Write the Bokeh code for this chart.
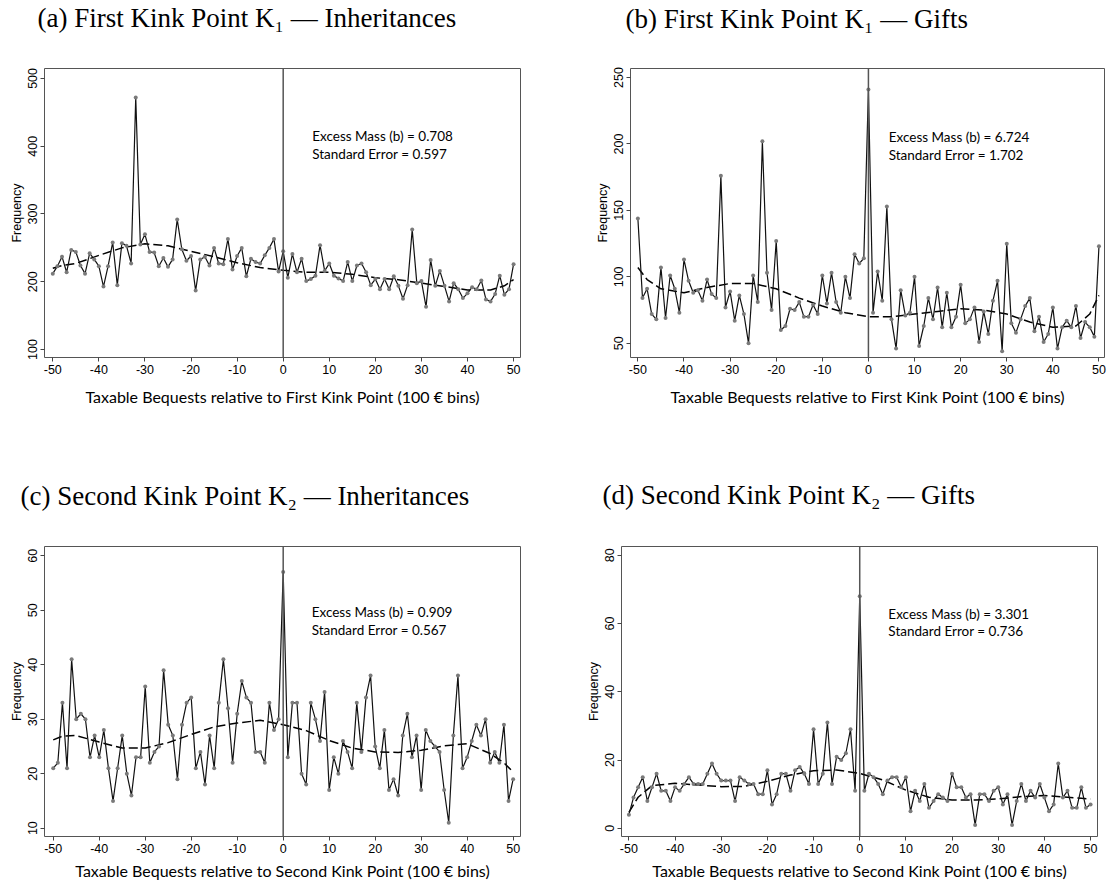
from bokeh.plotting import figure
from bokeh.layouts import column, row
from bokeh.models import Title, Span, Label, FixedTicker, Range1d
from bokeh.embed import file_html
from bokeh.resources import INLINE

# ---------------- data ----------------
bins = list(range(-50, 51))
x_ticks = [-50, -40, -30, -20, -10, 0, 10, 20, 30, 40, 50]
fit_x = [-50, -48, -45, -40, -35, -30, -25, -20, -15, -10, -5, 0,
         5, 10, 15, 20, 25, 30, 35, 40, 45, 48, 50]

titles = ["(a) First Kink Point K\u2081 \u2014 Inheritances",
          "(b) First Kink Point K\u2081 \u2014 Gifts",
          "(c) Second Kink Point K\u2082 \u2014 Inheritances",
          "(d) Second Kink Point K\u2082 \u2014 Gifts"]
xlabels = ["Taxable Bequests relative to First Kink Point (100 \u20ac bins)",
           "Taxable Bequests relative to First Kink Point (100 \u20ac bins)",
           "Taxable Bequests relative to Second Kink Point (100 \u20ac bins)",
           "Taxable Bequests relative to Second Kink Point (100 \u20ac bins)"]
excess_mass = ["0.708", "6.724", "0.909", "3.301"]
std_error = ["0.597", "1.702", "0.567", "0.736"]

counts_a = [212, 223, 237, 214, 247, 244, 224, 212, 242, 233,
            223, 193, 223, 258, 195, 257, 253, 227, 472, 255,
            270, 244, 243, 223, 235, 222, 233, 292, 248, 231,
            238, 187, 233, 237, 224, 250, 227, 226, 263, 218,
            238, 250, 208, 234, 229, 227, 239, 250, 263, 215,
            245,
            206, 241, 214, 234, 201, 204, 209, 254, 216, 227,
            209, 205, 201, 229, 201, 224, 227, 214, 195, 204,
            189, 204, 189, 208, 194, 175, 195, 277, 198, 201,
            163, 232, 194, 216, 194, 171, 198, 189, 176, 183,
            192, 189, 202, 174, 171, 182, 209, 181, 189, 226]
fit_a = [220, 224, 227, 239, 250, 256, 253, 245, 237, 228, 221, 217,
         214, 214, 211, 206, 203, 198, 193, 188, 188, 194, 203]

counts_b = [144, 84, 91, 72, 68, 107, 69, 101, 91, 73,
            113, 97, 88, 90, 82, 98, 87, 84, 176, 77,
            89, 67, 86, 72, 50, 101, 81, 202, 103, 75,
            127, 60, 63, 76, 75, 81, 70, 70, 79, 72,
            101, 80, 103, 81, 73, 100, 84, 117, 110, 114,
            241,
            73, 104, 82, 153, 68, 46, 90, 71, 73, 100,
            48, 63, 84, 68, 92, 62, 88, 62, 70, 94,
            65, 68, 77, 51, 74, 57, 82, 97, 44, 125,
            65, 58, 68, 78, 84, 59, 70, 51, 57, 77,
            46, 62, 67, 62, 78, 54, 66, 62, 55, 123]
fit_b = [107, 98, 91, 88, 92, 95, 95, 91, 84, 78, 73, 70,
         70, 72, 74, 76, 75, 72, 66, 62, 63, 72, 86]

counts_c = [21, 22, 33, 21, 41, 30, 31, 30, 23, 27,
            23, 28, 21, 15, 21, 27, 20, 16, 23, 23,
            36, 22, 24, 25, 39, 29, 27, 19, 29, 33,
            34, 21, 24, 18, 27, 21, 33, 41, 32, 22,
            31, 37, 34, 33, 24, 24, 22, 33, 28, 30,
            57,
            23, 33, 33, 20, 18, 33, 30, 26, 35, 17,
            23, 20, 26, 24, 21, 33, 24, 34, 38, 25,
            21, 28, 17, 19, 16, 27, 31, 23, 27, 17,
            28, 26, 25, 24, 17, 11, 27, 38, 21, 23,
            26, 29, 27, 30, 22, 24, 22, 29, 15, 19]
fit_c = [26.2, 26.9, 27.0, 25.8, 24.7, 24.7, 25.7, 27.2, 28.6, 29.3, 29.8, 29.0,
         27.9, 26.1, 24.7, 24.0, 23.9, 24.3, 25.1, 25.5, 23.7, 22.0, 20.3]

counts_d = [4, 9, 12, 15, 8, 12, 16, 11, 11, 8,
            12, 11, 13, 15, 13, 13, 13, 16, 19, 16,
            14, 14, 14, 8, 15, 14, 13, 13, 10, 10,
            17, 7, 10, 16, 16, 11, 17, 18, 16, 13,
            29, 13, 16, 31, 13, 21, 20, 22, 29, 11,
            68,
            11, 16, 15, 13, 10, 14, 15, 15, 12, 15,
            5, 11, 8, 13, 6, 8, 10, 9, 8, 16,
            12, 12, 9, 10, 1, 10, 10, 8, 11, 12,
            7, 10, 1, 8, 13, 8, 11, 9, 13, 9,
            5, 7, 19, 9, 11, 6, 6, 12, 6, 7]
fit_d = [4.7, 9.1, 12.5, 13.2, 12.7, 12.2, 12.3, 13.8, 15.6, 16.9, 17.1, 16.1,
         14.2, 11.2, 9.1, 8.3, 8.3, 8.6, 9.3, 9.6, 9.1, 8.8, 8.6]

y_ticks_a = [100, 200, 300, 400, 500]
y_ticks_b = [50, 100, 150, 200, 250]
y_ticks_c = [10, 20, 30, 40, 50, 60]
y_ticks_d = [0, 20, 40, 60, 80]

# ---------------- styling / layout ----------------
SERIF = "Liberation Serif"
SANS = "Liberation Sans"
CAL = "Lato"


def panel(i, counts, fit, yticks, xr, yr, width, height, mb, title_off,
          spacer, ann_x, ann_y1, ann_y2, xlab_standoff):
    p = figure(width=width, height=height, x_range=Range1d(*xr), y_range=Range1d(*yr),
               output_backend="svg", toolbar_location=None,
               min_border_left=mb[0], min_border_right=mb[1],
               min_border_top=mb[2], min_border_bottom=mb[3])
    p.add_layout(Title(text=" ", text_font_size="1px", standoff=spacer), "above")
    p.add_layout(Title(text=titles[i], text_font=SERIF, text_font_size="27px",
                       text_font_style="normal", text_color="black", align="left",
                       offset=title_off, standoff=0), "above")
    p.background_fill_color = "white"
    p.border_fill_color = "white"
    p.outline_line_color = "#555555"
    p.outline_line_width = 1
    p.xgrid.visible = False
    p.ygrid.visible = False

    p.xaxis.ticker = FixedTicker(ticks=x_ticks)
    p.xaxis.major_label_overrides = {t: str(t) for t in x_ticks}
    p.yaxis.ticker = FixedTicker(ticks=yticks)
    p.yaxis.major_label_overrides = {t: str(t) for t in yticks}
    for ax in (p.xaxis[0], p.yaxis[0]):
        ax.axis_line_color = None
        ax.major_tick_line_color = "#444444"
        ax.major_tick_out = 4
        ax.major_tick_in = 0
        ax.minor_tick_line_color = None
        ax.major_label_text_font = SANS
        ax.major_label_text_font_size = "12.5px"
        ax.major_label_text_color = "black"
        ax.major_label_standoff = 3
    p.yaxis.major_label_orientation = "vertical"
    p.xaxis.axis_label = xlabels[i]
    p.xaxis.axis_label_text_font = CAL
    p.xaxis.axis_label_text_font_size = "16px"
    p.xaxis.axis_label_text_font_style = "normal"
    p.xaxis.axis_label_text_color = "black"
    p.xaxis.axis_label_standoff = xlab_standoff
    p.yaxis.axis_label = "Frequency"
    p.yaxis.axis_label_text_font = SANS
    p.yaxis.axis_label_text_font_size = "12.5px"
    p.yaxis.axis_label_text_font_style = "normal"
    p.yaxis.axis_label_text_color = "black"
    p.yaxis.axis_label_standoff = 2

    p.add_layout(Span(location=0, dimension="height", line_color="#555555", line_width=1.5))
    p.line(fit_x, fit, line_color="black", line_width=1.5, line_dash="9 4")
    p.line(bins, counts, line_color="#111111", line_width=1.2)
    p.scatter(bins, counts, size=4, fill_color="#7a7a7a", line_color=None)

    p.add_layout(Label(x=ann_x, y=ann_y1, text="Excess Mass (b) = " + excess_mass[i],
                       text_font=CAL, text_font_size="13.5px", text_baseline="middle",
                       text_color="black"))
    p.add_layout(Label(x=ann_x, y=ann_y2, text="Standard Error = " + std_error[i],
                       text_font=CAL, text_font_size="13.5px", text_baseline="middle",
                       text_color="black"))
    return p


pa = panel(0, counts_a, fit_a, y_ticks_a, (-51.8, 51.5), (88.3, 514.6), 560, 440,
           (44, 40, 68, 81), -7, 33, 6.3, 415.6, 389.0, 10)
pb = panel(1, counts_b, fit_b, y_ticks_b, (-51.6, 51.2), (39.3, 256.8), 547, 440,
           (70, 3, 67, 83), -5, 32, 4.4, 205.2, 192.0, 10)
pc = panel(2, counts_c, fit_c, y_ticks_c, (-51.9, 51.6), (8.47, 61.7), 560, 443,
           (44, 40, 105, 46), -24, 33, 6.2, 49.65, 46.3, 5)
pd = panel(3, counts_d, fit_d, y_ticks_d, (-51.6, 51.5), (-2.4, 82.6), 547, 443,
           (61, 10, 106, 47), -19, 34, 6.2, 62.9, 57.7, 5)

layout = column(row(pa, pb), row(pc, pd))
open("out.html", "w").write(file_html(layout, INLINE))
